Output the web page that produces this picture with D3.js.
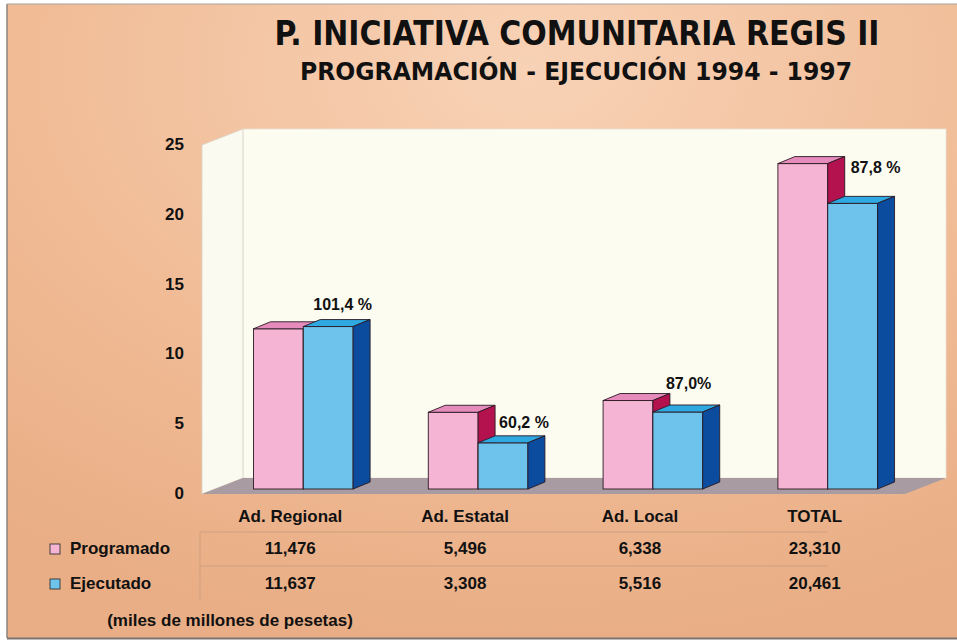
<!DOCTYPE html>
<html><head><meta charset="utf-8">
<script src="https://cdn.jsdelivr.net/npm/d3@7"></script>
<style>html,body{margin:0;padding:0;background:#fff;}svg{display:block;}</style>
</head><body>
<svg id="c" width="957" height="642"></svg>
<script>
const titleText = "P. INICIATIVA COMUNITARIA REGIS II";
const subtitleText = "PROGRAMACIÓN - EJECUCIÓN 1994 - 1997";
const categories = ["Ad. Regional", "Ad. Estatal", "Ad. Local", "TOTAL"];
const seriesNames = ["Programado", "Ejecutado"];
const programado = [11.476, 5.496, 6.338, 23.310];
const ejecutado = [11.637, 3.308, 5.516, 20.461];
const programadoLabels = ["11,476", "5,496", "6,338", "23,310"];
const ejecutadoLabels = ["11,637", "3,308", "5,516", "20,461"];
const percentLabels = ["101,4 %", "60,2 %", "87,0%", "87,8 %"];
const yTicks = [0, 5, 10, 15, 20, 25];
const unitNote = "(miles de millones de pesetas)";

const svg = d3.select("#c");
const FONT = "'Liberation Sans', Arial, sans-serif";
const NARROW = "'Liberation Sans Narrow', 'DejaVu Sans Condensed', 'Liberation Sans', sans-serif";
const FS = 17;

// background
const defs = svg.append("defs");
const bg = defs.append("radialGradient").attr("id","bg").attr("cx","0.55").attr("cy","0.1").attr("r","0.9");
bg.append("stop").attr("offset","0").attr("stop-color","#f8d2b6");
bg.append("stop").attr("offset","0.6").attr("stop-color","#f0bb95");
bg.append("stop").attr("offset","1").attr("stop-color","#e9ae86");
svg.append("rect").attr("width",957).attr("height",642).attr("fill","#fff");
svg.append("rect").attr("x",7).attr("y",4).attr("width",950).attr("height",634).attr("fill","url(#bg)");
svg.append("line").attr("x1",7).attr("x2",7).attr("y1",4).attr("y2",638).attr("stroke","#8a8480").attr("stroke-width",1.5);
svg.append("line").attr("x1",7).attr("x2",957).attr("y1",4).attr("y2",4).attr("stroke","#a8a4a0").attr("stroke-width",1.2);
svg.append("line").attr("x1",7).attr("x2",957).attr("y1",638.5).attr("y2",638.5).attr("stroke","#7a7470").attr("stroke-width",2);

// titles
svg.append("text").attr("x",577).attr("y",45).attr("text-anchor","middle")
  .attr("font-family",NARROW).attr("font-weight","bold").attr("font-size",33)
  .attr("textLength",605).attr("lengthAdjust","spacingAndGlyphs").attr("fill","#111").text(titleText);
svg.append("text").attr("x",576).attr("y",80).attr("text-anchor","middle")
  .attr("font-family",NARROW).attr("font-weight","bold").attr("font-size",24)
  .attr("textLength",552).attr("lengthAdjust","spacingAndGlyphs").attr("fill","#111").text(subtitleText);

// 3D geometry
const depthX = 41, depthY = -16;
const frontLeft = 202, wallRight = 946;
const yFront = d3.scaleLinear().domain([0,25]).range([494,145]);
const y = d3.scaleLinear().domain([0,25]).range([489,140]);
const barDX = 17, barDY = -7, barOffX = 13;

svg.append("rect").attr("x",frontLeft+depthX).attr("y",yFront(25)+depthY)
  .attr("width",wallRight-(frontLeft+depthX)).attr("height",yFront(0)-yFront(25))
  .attr("fill","#fdfcf1").attr("stroke","#e6e2d6").attr("stroke-width",0.8);
svg.append("polygon").attr("points",[
  [frontLeft,yFront(25)],[frontLeft+depthX,yFront(25)+depthY],
  [frontLeft+depthX,yFront(0)+depthY],[frontLeft,yFront(0)]].map(p=>p.join(",")).join(" "))
  .attr("fill","#fbfaf0").attr("stroke","#d8d4c8").attr("stroke-width",0.8);
svg.append("polygon").attr("points",[
  [frontLeft,yFront(0)],[frontLeft+depthX,yFront(0)+depthY],
  [wallRight,yFront(0)+depthY],[wallRight-depthX,yFront(0)]].map(p=>p.join(",")).join(" "))
  .attr("fill","#a99ba2");

svg.selectAll("text.ytick").data(yTicks).join("text").attr("class","ytick")
  .attr("x",184).attr("y",d=>yFront(d)+5).attr("text-anchor","end")
  .attr("font-family",FONT).attr("font-weight","bold").attr("font-size",FS).attr("fill","#111")
  .text(d=>d);

// bars
const x0 = d3.scaleBand().domain(categories).range([215,916]).paddingInner(0.43).paddingOuter(0.22);
const x1 = d3.scaleBand().domain(seriesNames).range([0,x0.bandwidth()]);
const colors = {
  Programado:{front:"#f5b4d3", top:"#e58cbd", side:"#b3124f"},
  Ejecutado:{front:"#6dc3eb", top:"#2ea9e2", side:"#0b4c9e"}
};
const rows = categories.map((c,i)=>({c, vals:[{s:"Programado",v:programado[i]},{s:"Ejecutado",v:ejecutado[i]}]}));
const stroke = "#2a1a22";
rows.forEach(r=>{
  const g = svg.append("g");
  r.vals.forEach(d=>{
    const xl = x0(r.c)+x1(d.s), w = x1.bandwidth(), yt = y(d.v), yb = y(0), col = colors[d.s];
    g.append("rect").attr("x",xl).attr("y",yt).attr("width",w).attr("height",yb-yt)
      .attr("fill",col.front).attr("stroke",stroke).attr("stroke-width",0.9);
    g.append("polygon").attr("points",[[xl,yt],[xl+barDX,yt+barDY],[xl+w+barDX,yt+barDY],[xl+w,yt]].map(p=>p.join(",")).join(" "))
      .attr("fill",col.top).attr("stroke",stroke).attr("stroke-width",0.9).attr("stroke-linejoin","round");
    g.append("polygon").attr("points",[[xl+w,yt],[xl+w+barDX,yt+barDY],[xl+w+barDX,yb+barDY],[xl+w,yb]].map(p=>p.join(",")).join(" "))
      .attr("fill",col.side).attr("stroke",stroke).attr("stroke-width",0.9).attr("stroke-linejoin","round");
  });
});

// percent labels (offsets relative to the ejecutado bar left / programado top)
const pctOffX = [10, 21, 13, 23];
const pctOffY = [-17, 16, -12, 9];
svg.selectAll("text.pct").data(categories).join("text").attr("class","pct")
  .attr("x",(c,i)=>x0(c)+x1("Ejecutado")+pctOffX[i])
  .attr("y",(c,i)=>y(i===0?ejecutado[i]:programado[i])+pctOffY[i])
  .attr("font-family",FONT).attr("font-weight","bold").attr("font-size",FS-1).attr("fill","#111")
  .text((c,i)=>percentLabels[i]);

const colX = c => x0(c)+x0.bandwidth()/2-barOffX;
svg.selectAll("text.cat").data(categories).join("text").attr("class","cat")
  .attr("x",colX).attr("y",522).attr("text-anchor","middle")
  .attr("font-family",FONT).attr("font-weight","bold").attr("font-size",FS).attr("fill","#111").text(d=>d);

// table
const tblLine = "#cf9f7e";
svg.append("line").attr("x1",200).attr("x2",828).attr("y1",532).attr("y2",532).attr("stroke",tblLine).attr("stroke-width",1);
svg.append("line").attr("x1",200).attr("x2",828).attr("y1",566).attr("y2",566).attr("stroke",tblLine).attr("stroke-width",1);
svg.append("line").attr("x1",200).attr("x2",200).attr("y1",532).attr("y2",600).attr("stroke",tblLine).attr("stroke-width",1);
const tableRows = [{s:"Programado",labels:programadoLabels,y:554},{s:"Ejecutado",labels:ejecutadoLabels,y:589}];
tableRows.forEach(tr=>{
  svg.append("rect").attr("x",50).attr("y",tr.y-10).attr("width",10).attr("height",10)
    .attr("fill",colors[tr.s].front).attr("stroke","#333").attr("stroke-width",0.9);
  svg.append("text").attr("x",70).attr("y",tr.y).attr("font-family",FONT).attr("font-weight","bold")
    .attr("font-size",FS).attr("fill","#111").text(tr.s);
  svg.selectAll(null).data(categories).join("text").attr("x",colX).attr("y",tr.y).attr("text-anchor","middle")
    .attr("font-family",FONT).attr("font-weight","bold").attr("font-size",FS).attr("fill","#111")
    .text((c,i)=>tr.labels[i]);
});
svg.append("text").attr("x",230).attr("y",626).attr("text-anchor","middle")
  .attr("font-family",FONT).attr("font-weight","bold").attr("font-size",FS).attr("fill","#111").text(unitNote);
</script>
</body></html>
